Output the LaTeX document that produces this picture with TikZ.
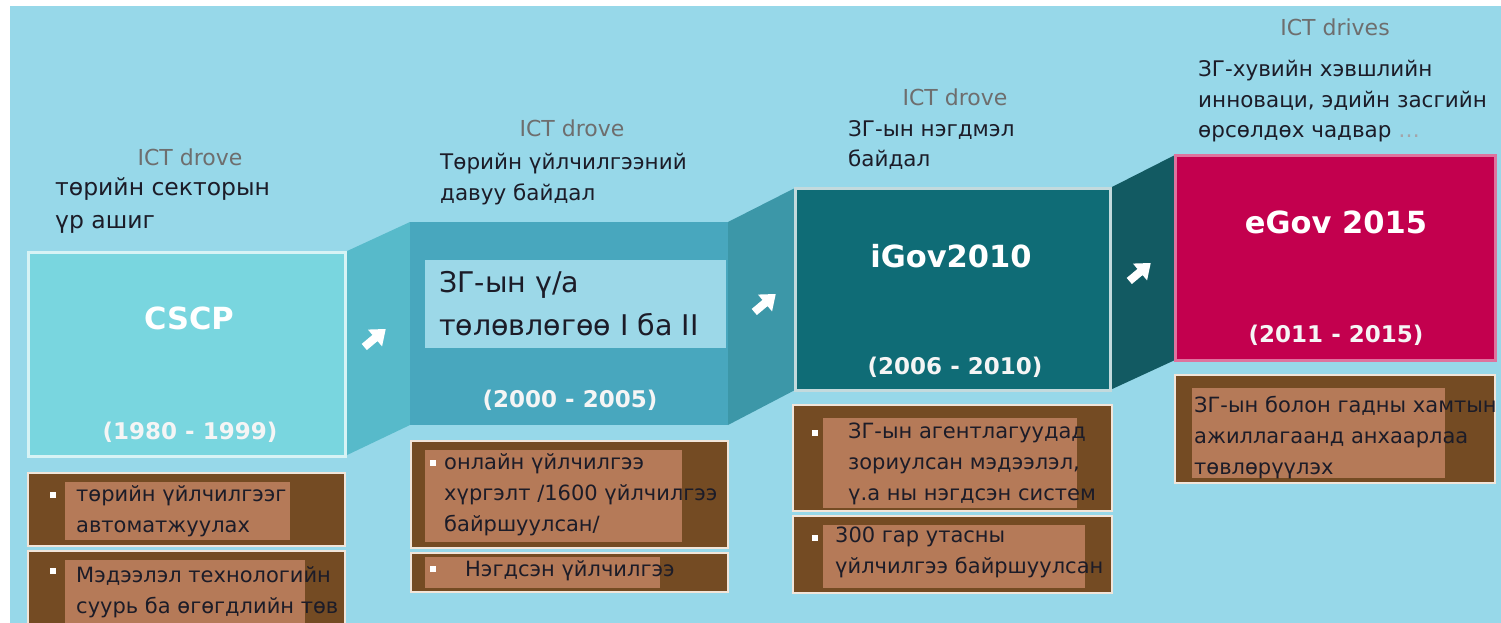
\documentclass[tikz,border=0pt]{standalone}
\usepackage{fontspec}
\setmainfont{DejaVu Sans}
\usetikzlibrary{positioning}
\definecolor{bgblue}{HTML}{97D8E9}
\definecolor{blkone}{HTML}{79D6DF}
\definecolor{conone}{HTML}{57BACA}
\definecolor{blktwo}{HTML}{48A7BE}
\definecolor{innertwo}{HTML}{9CD8E8}
\definecolor{contwo}{HTML}{3C97A8}
\definecolor{blkthree}{HTML}{0F6C76}
\definecolor{conthree}{HTML}{125A62}
\definecolor{blkfour}{HTML}{C3004E}
\definecolor{brownout}{HTML}{744B23}
\definecolor{brownin}{HTML}{B57A58}
\definecolor{darktxt}{HTML}{1C1C28}
\definecolor{ictgray}{HTML}{6E6E6E}
\tikzset{
  ictlbl/.style={text=ictgray, inner sep=0pt, font=\fontsize{22}{26}\selectfont},
  toplbl/.style={anchor=north west, align=left, text=darktxt, inner sep=0pt, font=\fontsize{21.5}{30.5}\selectfont},
  boxtxt/.style={anchor=north west, align=left, text=darktxt, inner sep=0pt, font=\fontsize{21}{31}\selectfont},
  titletxt/.style={text=white, inner sep=0pt, font=\bfseries\fontsize{30.5}{36}\selectfont},
  yeartxt/.style={text=white!92!gray, inner sep=0pt, font=\bfseries\fontsize{23}{26}\selectfont},
  brownbox/.style={fill=brownout, draw=white!80!brown, line width=2pt},
  bullet/.style={fill=white, inner sep=0pt, minimum size=6pt, rectangle}
}
\begin{document}
\begin{tikzpicture}[x=1pt, y=-1pt]

\useasboundingbox (0,0) rectangle (1501,623);
\fill[white] (0,0) rectangle (1501,623);
\fill[bgblue] (10,6) rectangle (1501,623);

% steps
\fill[conone] (345,252) -- (410,222) -- (410,425) -- (345,456) -- cycle;
\fill[contwo] (728,222) -- (795,188) -- (795,390) -- (728,425) -- cycle;
\fill[conthree] (1110,188) -- (1175,155) -- (1175,360) -- (1110,390) -- cycle;
\draw[fill=blkone, draw=white!70!blkone, line width=3pt] (28,252) rectangle (345,456);
\fill[blktwo] (410,222) rectangle (728,425);
\draw[fill=blkthree, draw=white!75!blkthree, line width=3pt] (795,188) rectangle (1110,390);
\draw[fill=blkfour, draw=white!45!blkfour, line width=3pt] (1175,155) rectangle (1495,360);
\fill[innertwo] (425,260) rectangle (726,348);

% arrows
\fill[white, shift={(375,338)}, rotate=40] (-14,-4) -- (0,-4) -- (0,-11) -- (14,0) -- (0,11) -- (0,4) -- (-14,4) -- cycle;
\fill[white, shift={(765,303)}, rotate=40] (-14,-4) -- (0,-4) -- (0,-11) -- (14,0) -- (0,11) -- (0,4) -- (-14,4) -- cycle;
\fill[white, shift={(1140,272)}, rotate=40] (-14,-4) -- (0,-4) -- (0,-11) -- (14,0) -- (0,11) -- (0,4) -- (-14,4) -- cycle;

% titles
\node[titletxt] (cscp) at (189,318) {CSCP};
\node[yeartxt] (yone) at (190,432) {(1980 - 1999)};
\node[anchor=north west, align=left, text=darktxt, inner sep=0pt, font=\fontsize{28.5}{43}\selectfont] (plan) at (439,271) {ЗГ-ын ү/а\\төлөвлөгөө I ба II};
\node[yeartxt] (ytwo) at (570,400) {(2000 - 2005)};
\node[titletxt] (igov) at (951,256) {iGov2010};
\node[yeartxt] (ythree) at (955,367) {(2006 - 2010)};
\node[titletxt] (egov) at (1336,222) {eGov 2015};
\node[yeartxt] (yfour) at (1336,335) {(2011 - 2015)};

% labels above
\node[ictlbl] (ictone) at (190,157) {ICT drove};
\node[toplbl, font=\fontsize{23.5}{33}\selectfont] (lblone) at (55,177) {төрийн  секторын\\үр ашиг};
\node[ictlbl] (icttwo) at (572,128) {ICT drove};
\node[toplbl] (lbltwo) at (440,153) {Төрийн үйлчилгээний\\давуу байдал};
\node[ictlbl] (ictthree) at (955,97) {ICT drove};
\node[toplbl] (lblthree) at (848,120) {ЗГ-ын нэгдмэл\\байдал};
\node[ictlbl] (ictfour) at (1335,27) {ICT drives};
\node[toplbl] (lblfour) at (1198,60) {ЗГ-хувийн хэвшлийн\\инноваци, эдийн засгийн\\өрсөлдөх чадвар \textcolor{white!60!darktxt}{…}};

% CSCP boxes
\draw[brownbox] (28,473) rectangle (345,546);
\fill[brownin] (65,482) rectangle (290,540);
\node[bullet] (bone) at (53,495) {};
\node[boxtxt] (tone) at (76,485) {төрийн үйлчилгээг\\автоматжуулах};
\draw[brownbox] (28,551) rectangle (345,630);
\fill[brownin] (65,560) rectangle (305,625);
\node[bullet] (btwo) at (53,571) {};
\node[boxtxt] (ttwo) at (76,566) {Мэдээлэл технологийн\\суурь ба өгөгдлийн төв};

% plan boxes
\draw[brownbox] (411,441) rectangle (728,548);
\fill[brownin] (425,450) rectangle (682,542);
\node[bullet] (bthree) at (433,463) {};
\node[boxtxt] (tthree) at (444,453) {онлайн үйлчилгээ\\хүргэлт /1600 үйлчилгээ\\байршуулсан/};
\draw[brownbox] (411,553) rectangle (728,592);
\fill[brownin] (425,557) rectangle (660,588);
\node[bullet] (bfour) at (433,569) {};
\node[boxtxt] (tfour) at (465,560) {Нэгдсэн үйлчилгээ};

% iGov boxes
\draw[brownbox] (793,405) rectangle (1112,511);
\fill[brownin] (823,418) rectangle (1077,508);
\node[bullet] (bfive) at (815,433) {};
\node[boxtxt] (tfive) at (848,423) {ЗГ-ын агентлагуудад\\зориулсан мэдээлэл,\\ү.а ны нэгдсэн систем};
\draw[brownbox] (793,516) rectangle (1112,593);
\fill[brownin] (823,525) rectangle (1085,588);
\node[bullet] (bsix) at (815,538) {};
\node[boxtxt] (tsix) at (835,527) {300 гар утасны\\үйлчилгээ байршуулсан};

% eGov box
\draw[brownbox] (1175,375) rectangle (1495,483);
\fill[brownin] (1192,388) rectangle (1445,478);
\node[boxtxt] (tseven) at (1194,396) {ЗГ-ын болон гадны хамтын\\ажиллагаанд анхаарлаа\\төвлөрүүлэх};

\end{tikzpicture}
\end{document}
